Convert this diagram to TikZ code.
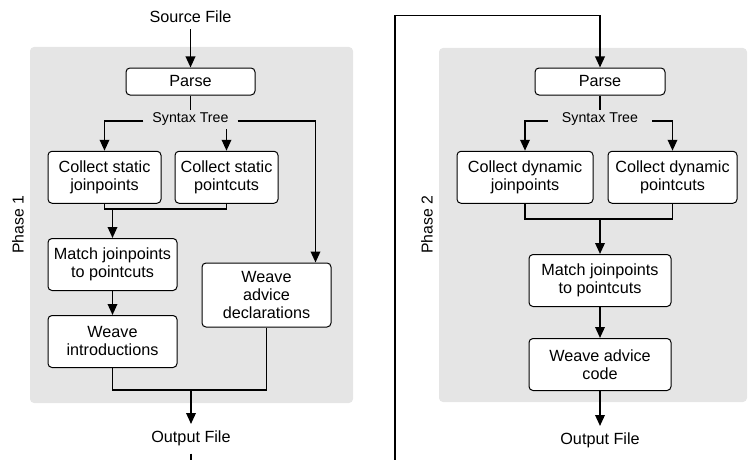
\documentclass[tikz,border=0pt]{standalone}
\usepackage{fontspec}
\setmainfont{Liberation Sans}
\usetikzlibrary{arrows.meta,positioning,calc}
\definecolor{panelgray}{RGB}{229,229,229}

\begin{document}
\begin{tikzpicture}[
    x=1pt, y=-1pt,
    node distance=24pt and 14pt,
    stage/.style={rectangle, draw=black, fill=white, line width=1pt, rounded corners=4pt, align=center, inner sep=2pt, minimum height=52pt, font=\fontsize{16.2}{18}\selectfont},
    tree/.style={inner ysep=3pt, inner xsep=9pt, font=\fontsize{14.2}{16}\selectfont},
    file/.style={inner xsep=3pt, inner ysep=7pt, font=\fontsize{16.2}{18}\selectfont},
    phase/.style={rotate=90, font=\fontsize{15.8}{18}\selectfont},
    panel/.style={fill=panelgray, rounded corners=4pt},
    flow/.style={line width=1.8pt},
    arrow/.style={flow, -{Triangle[length=11pt, width=9.5pt]}}
]
    \useasboundingbox (0,0) rectangle (749,460);

    % shaded phase areas
    \fill [panel] (30,47) rectangle (353,403);
    \fill [panel] (439,48) rectangle (747,402);
    \node [phase] (ph1) at (18,225) {Phase 1};
    \node [phase] (ph2) at (427,225) {Phase 2};

    % phase 1
    \node [stage, minimum width=129pt, minimum height=27pt] (parse1) at (190.5,81.5) {Parse};
    \node [file, above=38pt of parse1] (src) {Source File};
    \node [tree, below=14pt of parse1] (tree1) {Syntax Tree};
    \node [stage, minimum width=113pt, below=22pt of tree1, xshift=-86pt] (csj) {Collect static\\joinpoints};
    \node [stage, minimum width=103pt, right=13pt of csj] (csp) {Collect static\\pointcuts};
    \coordinate (j1) at (112.5,209);
    \node [stage, minimum width=129pt, below=29pt of j1] (mat1) {Match joinpoints\\to pointcuts};
    \node [stage, minimum width=129pt, below=of mat1] (wint) {Weave\\introductions};
    \node [stage, minimum width=129pt, minimum height=64pt] (wadv) at (266.5,295) {Weave\\advice\\declarations};
    \coordinate (j2) at (191,390);
    \node [file, below=34pt of j2] (out1) {Output File};
    \coordinate (cut1) at (191,460);

    \draw [arrow] (src) -- (parse1);
    \draw [flow] (parse1) -- (tree1);
    \draw [arrow] ([yshift=2pt]tree1.base west) -| (csj.north);
    \draw [arrow] (csp.north |- tree1.south) -- (csp.north);
    \draw [arrow] ([yshift=2pt]tree1.base east) -| ([xshift=-16pt]wadv.north east);
    \draw [flow] (csj.south) |- (j1) -| (csp.south);
    \draw [arrow] (j1) -- (mat1.north);
    \draw [arrow] (mat1) -- (wint);
    \draw [flow] (wint.south) |- (j2) -| (wadv.south);
    \draw [arrow] (j2) -- (out1.north);
    \draw [flow] (out1) -- (cut1);

    % phase 2
    \node [stage, minimum width=130pt, minimum height=27pt] (parse2) at (600,81.5) {Parse};
    \node [tree, inner xsep=14pt, below=14pt of parse2] (tree2) {Syntax Tree};
    \node [stage, minimum width=136pt, below=22pt of tree2, xshift=-75pt] (cdj) {Collect dynamic\\joinpoints};
    \node [stage, minimum width=129pt, right=14pt of cdj] (cdp) {Collect dynamic\\pointcuts};
    \coordinate (j3) at (600,219);
    \node [stage, minimum width=142pt, below=35pt of j3] (mat2) {Match joinpoints\\to pointcuts};
    \node [stage, minimum width=142pt, below=31pt of mat2] (wcode) {Weave advice\\code};
    \node [file, below=35pt of wcode] (out2) {Output File};
    \coordinate (cut2) at (395,460);

    \draw [arrow] (cut2) |- ([yshift=52pt]parse2.north) -- (parse2.north);
    \draw [flow] (parse2) -- (tree2);
    \draw [arrow] ([yshift=2pt]tree2.base west) -| (cdj.north);
    \draw [arrow] ([yshift=2pt]tree2.base east) -| (cdp.north);
    \draw [flow] (cdj.south) |- (j3) -| (cdp.south);
    \draw [arrow] (j3) -- (mat2.north);
    \draw [arrow] (mat2) -- (wcode);
    \draw [arrow] (wcode) -- (out2);
\end{tikzpicture}
\end{document}
